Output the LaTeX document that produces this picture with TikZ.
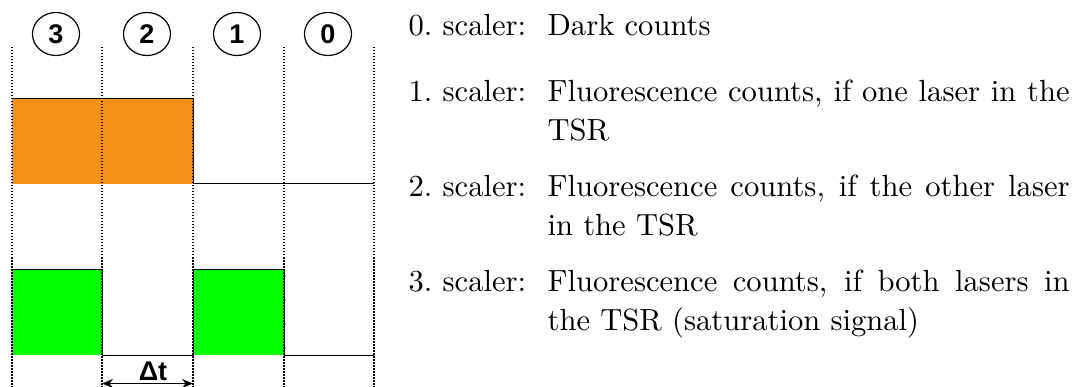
\documentclass[tikz,border=0pt]{standalone}
\usepackage{fontspec}
\newfontfamily\numfont{Liberation Sans}
\usetikzlibrary{shapes.geometric,arrows.meta}
\definecolor{pulseorange}{RGB}{247,144,22}
\definecolor{pulsegreen}{RGB}{0,255,0}
\tikzset{
  slot/.style={draw=black, dash pattern=on 1.5pt off 1.5pt, line width=1.1pt},
  signal/.style={draw=black, line width=1pt},
  tag/.style={ellipse, draw, line width=1.2pt, minimum width=47pt, minimum height=43pt,
    inner sep=0pt, font=\numfont\bfseries\fontsize{27}{27}\selectfont},
  lbl/.style={anchor=base west, inner sep=0pt, scale=3.06,
    font=\fontsize{10}{12.52}\selectfont},
  body/.style={lbl, text width=170.6pt, align=justify},
  dtip/.tip={Stealth[length=11pt,width=9pt]}
}
\begin{document}
\begin{tikzpicture}[x=1pt,y=-1pt]
\useasboundingbox (0,0) rectangle (1076,387);

% laser pulses
\fill[pulseorange] (12,99) rectangle (193,184);
\fill[pulsegreen] (12,270) rectangle (102,355);
\fill[pulsegreen] (193,270) rectangle (284,355);

% time slot boundaries
\foreach \x in {12,102,193,284,374}
  \draw[slot] (\x,47) -- (\x,387);

% pulse outlines
\draw[signal] (12,99) -- (193,99) -- (193,184) -- (374,184);
\draw[signal] (12,270) -- (102,270) -- (102,355) -- (193,355) -- (193,270)
  -- (284,270) -- (284,355) -- (374,355);

% scaler numbers
\node[tag] (s3) at (56,34) {3};
\node[tag] (s2) at (147,34) {2};
\node[tag] (s1) at (237,34) {1};
\node[tag] (s0) at (328,34) {0};

% delay between the pulses
\coordinate (dl) at (102,383.5);
\coordinate (dr) at (193,383.5);
\draw[dtip-dtip, line width=1.5pt] (dl) -- (dr);
\node[anchor=base, inner sep=0pt, font=\numfont\bfseries\fontsize{27}{27}\selectfont]
  (dt) at (153,380) {Δt};

% scaler description
\node[lbl] (l0) at (408,35.7) {0.\ scaler:};
\node[body] (b0) at (547,35.7) {Dark counts};
\node[lbl] (l1) at (408,101.7) {1.\ scaler:};
\node[body] (b1) at (547,101.7) {Fluorescence counts, if one laser in the\linebreak TSR};
\node[lbl] (l2) at (408,196.7) {2.\ scaler:};
\node[body] (b2) at (547,196.7) {Fluorescence counts, if the other laser\linebreak in the TSR};
\node[lbl] (l3) at (408,291.7) {3.\ scaler:};
\node[body] (b3) at (547,291.7) {Fluorescence counts, if both lasers in\linebreak the TSR (saturation signal)};
\end{tikzpicture}
\end{document}
